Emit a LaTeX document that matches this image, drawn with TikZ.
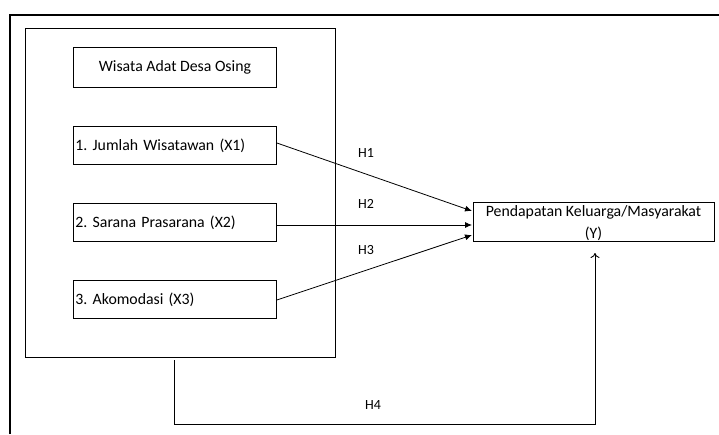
\documentclass[tikz,border=0pt]{standalone}
\usepackage{fontspec}
\setmainfont{Carlito}
\frenchspacing
\usetikzlibrary{arrows.meta}
\begin{document}
\begin{tikzpicture}[x=1pt,y=-1pt,
  box/.style={draw,line width=0.9pt,minimum height=38pt,inner sep=2pt,font=\fontsize{15.8}{20}\selectfont},
  lbl/.style={font=\fontsize{14}{14}\selectfont,inner sep=0pt},
  arr/.style={line width=0.8pt,-{Latex[length=7pt,width=6pt]}}]
\useasboundingbox (0,0) rectangle (719,434);
% outer partial frame
\draw[line width=2pt] (10,434) -- (10,15) -- (719,15);
% inner big box
\node[draw,line width=0.9pt,minimum width=310pt,minimum height=329pt,anchor=north west,inner sep=0pt] (grp) at (25,28) {};
\node[box,minimum width=203pt,minimum height=40pt,anchor=north west] (w) at (73,47) {Wisata Adat Desa Osing};
\node[box,minimum width=203pt,anchor=north west,text width=199pt,align=left] (x1) at (73,126) {1. Jumlah Wisatawan (X1)};
\node[box,minimum width=203pt,anchor=north west,text width=199pt,align=left] (x2) at (73,203) {2. Sarana Prasarana (X2)};
\node[box,minimum width=203pt,anchor=north west,text width=199pt,align=left] (x3) at (73,280) {3. Akomodasi (X3)};
\node[draw,line width=0.9pt,minimum width=241pt,minimum height=39pt,anchor=north west,inner sep=0pt] (y) at (473,202) {};
\node[font=\fontsize{15.8}{22}\selectfont,align=center,inner sep=0pt,anchor=north] (yt) at (593.5,205) {Pendapatan Keluarga/Masyarakat\\(Y)};
% arrows
\coordinate (y1) at (472,211);
\coordinate (y2) at (472,225);
\coordinate (y3) at (472,235);
\draw[arr] (x1.east |- 0,143) -- (y1);
\draw[arr] (x2.east |- 0,225) -- (y2);
\draw[arr] (x3.east |- 0,300) -- (y3);
\node[lbl] (h1) at (366,153) {H1};
\node[lbl] (h2) at (366,204) {H2};
\node[lbl] (h3) at (366,250) {H3};
% H4 path
\coordinate (s4) at (174,360);
\coordinate (c4) at (174,424);
\coordinate (d4) at (595,424);
\coordinate (e4) at (595,253);
\draw[line width=0.9pt,-{To[length=5pt,width=9pt]}] (s4) -- (c4) -- (d4) -- (e4);
\node[lbl] (h4) at (373,405) {H4};
\end{tikzpicture}
\end{document}
